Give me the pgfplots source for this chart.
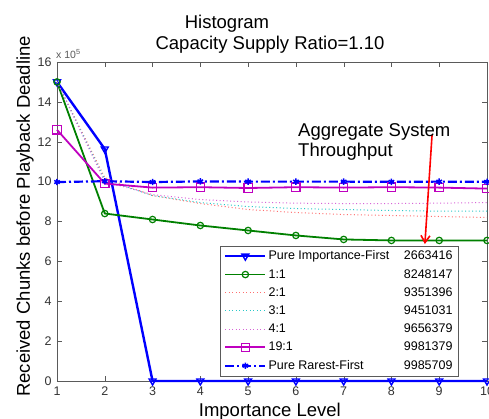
\documentclass[border=0pt]{standalone}
\usepackage{fontspec}
\setmainfont{Liberation Sans}
\usepackage{pgfplots}
\pgfplotsset{compat=1.18}
\usetikzlibrary{arrows.meta}

\definecolor{mblue}{RGB}{0,0,255}
\definecolor{mgreen}{RGB}{0,128,0}
\definecolor{mmag}{RGB}{191,0,191}
\definecolor{dred}{RGB}{255,110,110}
\definecolor{dcyan}{RGB}{40,200,200}
\definecolor{dmag}{RGB}{215,100,215}
\definecolor{axgray}{RGB}{90,90,90}

\newcommand{\lfont}{\fontsize{18.5bp}{21bp}\selectfont}
\newcommand{\tfont}{\fontsize{12.5bp}{14bp}\selectfont}

\begin{document}
\begin{tikzpicture}
\path[use as bounding box] (-57bp,-38bp) rectangle (432bp,381bp);
\begin{axis}[
  at={(0,0)}, anchor=south west,
  scale only axis,
  width=430bp, height=319bp,
  xmin=1, xmax=10, ymin=0, ymax=1600000,
  xtick={1,...,10},
  ytick={0,200000,400000,600000,800000,1000000,1200000,1400000,1600000},
  scaled y ticks=base 10:-5,
  ytick scale label code/.code={x 10\textsuperscript{5}},
  every y tick scale label/.style={at={(rel axis cs:0,1)},anchor=south west,inner sep=1bp,yshift=2bp,font=\fontsize{10.5bp}{11bp}\selectfont,text=axgray},
  /pgf/number format/assume math mode=true,
  tick label style={font=\tfont, text=black!80},
  xticklabel style={yshift=-2bp},
  yticklabel style={xshift=-2bp},
  tick align=inside,
  major tick length=5bp,
  tick style={axgray},
  axis line style={axgray},
  clip=false,
  xlabel={Importance Level},
  ylabel={Received Chunks before Playback Deadline},
  label style={font=\lfont},
  xlabel style={at={(axis description cs:0.495,0)},anchor=base,yshift=-35bp},
  ylabel style={at={(axis description cs:-0.0628,0.516)},anchor=base},
  legend image code/.code={\draw[mark repeat=2,mark phase=2,#1] plot coordinates {(0bp,0bp) (20bp,0bp) (40bp,0bp)};},
  legend style={at={(rel axis cs:0.379,0.015)},anchor=south west,draw=axgray,fill=white,
    font=\tfont, cells={anchor=west}, row sep=4bp, inner xsep=4bp, inner ysep=3bp},
  legend cell align=left,
]
% Pure Importance-First
\addplot[mblue, line width=2.4bp, mark=triangle, mark size=4bp, mark options={rotate=180, solid, line width=1.4bp}] coordinates {
  (1,1500000) (2,1163416) (3,0) (4,0) (5,0) (6,0) (7,0) (8,0) (9,0) (10,0)
};
% 1:1
\addplot[mgreen, line width=1.8bp, mark=o, mark size=3.2bp, mark options={solid, line width=1.2bp}] coordinates {
  (1,1500000) (2,840000) (3,810000) (4,780000) (5,755000) (6,730000) (7,710000) (8,705000) (9,705000) (10,705000)
};
% 2:1
\addplot[dred, line width=1bp, dash pattern=on 1bp off 2.5bp] coordinates {
  (1,1500000) (2,1020000) (3,930000) (4,890000) (5,860000) (6,845000) (7,835000) (8,830000) (9,825000) (10,820000)
};
% 3:1
\addplot[dcyan, line width=1bp, dash pattern=on 1bp off 2.5bp] coordinates {
  (1,1500000) (2,1010000) (3,930000) (4,895000) (5,875000) (6,865000) (7,860000) (8,855000) (9,852000) (10,852000)
};
% 4:1
\addplot[dmag, line width=1bp, dash pattern=on 1bp off 2.5bp] coordinates {
  (1,1500000) (2,1000000) (3,935000) (4,910000) (5,898000) (6,892000) (7,890000) (8,890000) (9,892000) (10,895000)
};
% 19:1
\addplot[mmag, line width=1.8bp, mark=square, mark size=4.2bp, mark options={solid, line width=1.2bp}] coordinates {
  (1,1260000) (2,990000) (3,970000) (4,972000) (5,968000) (6,972000) (7,970000) (8,972000) (9,970000) (10,965000)
};
% Pure Rarest-First
\addplot[mblue, line width=2.2bp, dash pattern=on 9bp off 3bp on 2bp off 3bp, mark=asterisk, mark size=3.2bp, mark options={solid, line width=1.5bp}] coordinates {
  (1,998000) (2,1002000) (3,998000) (4,1001000) (5,1000000) (6,1000000) (7,1000000) (8,999000) (9,1000000) (10,999000)
};
\legend{
  \makebox[184bp][l]{Pure Importance-First\hfill 2663416},
  \makebox[184bp][l]{1:1\hfill 8248147},
  \makebox[184bp][l]{2:1\hfill 9351396},
  \makebox[184bp][l]{3:1\hfill 9451031},
  \makebox[184bp][l]{4:1\hfill 9656379},
  \makebox[184bp][l]{19:1\hfill 9981379},
  \makebox[184bp][l]{Pure Rarest-First\hfill 9985709}
}
\draw[red, line width=1.6bp, -{Straight Barb[length=7bp,width=9bp,line width=1.6bp]}] (axis cs:8.85,1234000) -- (axis cs:8.70,687000);
\end{axis}
\node[font=\lfont, anchor=base] at (170bp,352.7bp) {Histogram};
\node[font=\lfont, anchor=base] at (213bp,331bp) {Capacity Supply Ratio=1.10};
\node[font=\lfont, anchor=base west, inner sep=0pt] at (241bp,244bp) {Aggregate System};
\node[font=\lfont, anchor=base west, inner sep=0pt] at (241bp,224bp) {Throughput};
\end{tikzpicture}
\end{document}
